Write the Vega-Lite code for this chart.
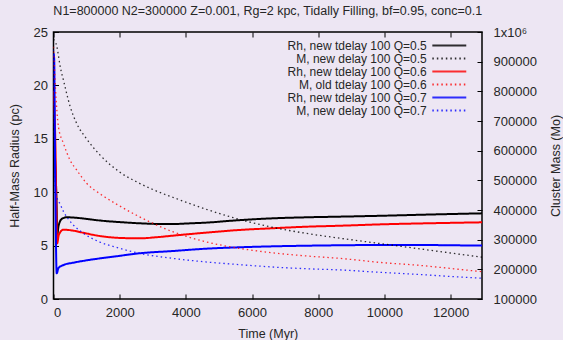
{
  "$schema": "https://vega.github.io/schema/vega-lite/v6.json",
  "width": 428.5,
  "height": 267,
  "autosize": {"type": "none"},
  "padding": {"left": 53.5, "top": 32, "right": 81, "bottom": 41},
  "background": "#ede6f3",
  "view": {"stroke": "#000000", "strokeWidth": 1.5},
  "config": {
    "font": "Liberation Sans",
    "axis": {
      "grid": false,
      "domain": false,
      "tickColor": "#000000",
      "tickWidth": 1,
      "tickSize": -5,
      "labelColor": "#262626",
      "titleColor": "#262626",
      "labelFontSize": 13,
      "titleFontSize": 12.5,
      "titleFontWeight": "normal",
      "labelFont": "Liberation Sans",
      "titleFont": "Liberation Sans"
    }
  },
  "title": {
    "text": "N1=800000 N2=300000 Z=0.001, Rg=2 kpc, Tidally Filling, bf=0.95, conc=0.1",
    "fontSize": 12.5,
    "fontWeight": "normal",
    "font": "Liberation Sans",
    "color": "#262626",
    "anchor": "middle",
    "baseline": "alphabetic",
    "offset": 13,
    "dy": 14.5
  },
  "datasets": {
    "rh": [
      {"t": 0, "r": 15.5, "s": "Rh, new tdelay 100 Q=0.5"},
      {"t": 60, "r": 12, "s": "Rh, new tdelay 100 Q=0.5"},
      {"t": 95, "r": 8.5, "s": "Rh, new tdelay 100 Q=0.5"},
      {"t": 110, "r": 5.9, "s": "Rh, new tdelay 100 Q=0.5"},
      {"t": 150, "r": 6.8, "s": "Rh, new tdelay 100 Q=0.5"},
      {"t": 250, "r": 7.5, "s": "Rh, new tdelay 100 Q=0.5"},
      {"t": 400, "r": 7.65, "s": "Rh, new tdelay 100 Q=0.5"},
      {"t": 700, "r": 7.6, "s": "Rh, new tdelay 100 Q=0.5"},
      {"t": 1000, "r": 7.5, "s": "Rh, new tdelay 100 Q=0.5"},
      {"t": 1400, "r": 7.35, "s": "Rh, new tdelay 100 Q=0.5"},
      {"t": 2000, "r": 7.2, "s": "Rh, new tdelay 100 Q=0.5"},
      {"t": 2600, "r": 7.09, "s": "Rh, new tdelay 100 Q=0.5"},
      {"t": 3100, "r": 7.03, "s": "Rh, new tdelay 100 Q=0.5"},
      {"t": 3600, "r": 7.02, "s": "Rh, new tdelay 100 Q=0.5"},
      {"t": 4100, "r": 7.08, "s": "Rh, new tdelay 100 Q=0.5"},
      {"t": 4600, "r": 7.15, "s": "Rh, new tdelay 100 Q=0.5"},
      {"t": 5600, "r": 7.38, "s": "Rh, new tdelay 100 Q=0.5"},
      {"t": 6600, "r": 7.55, "s": "Rh, new tdelay 100 Q=0.5"},
      {"t": 7650, "r": 7.65, "s": "Rh, new tdelay 100 Q=0.5"},
      {"t": 8650, "r": 7.71, "s": "Rh, new tdelay 100 Q=0.5"},
      {"t": 10000, "r": 7.8, "s": "Rh, new tdelay 100 Q=0.5"},
      {"t": 11500, "r": 7.92, "s": "Rh, new tdelay 100 Q=0.5"},
      {"t": 12950, "r": 8.02, "s": "Rh, new tdelay 100 Q=0.5"},
      {"t": 0, "r": 19.5, "s": "Rh, new tdelay 100 Q=0.6"},
      {"t": 60, "r": 14, "s": "Rh, new tdelay 100 Q=0.6"},
      {"t": 90, "r": 8, "s": "Rh, new tdelay 100 Q=0.6"},
      {"t": 110, "r": 5.2, "s": "Rh, new tdelay 100 Q=0.6"},
      {"t": 160, "r": 6.0, "s": "Rh, new tdelay 100 Q=0.6"},
      {"t": 300, "r": 6.49, "s": "Rh, new tdelay 100 Q=0.6"},
      {"t": 600, "r": 6.4, "s": "Rh, new tdelay 100 Q=0.6"},
      {"t": 900, "r": 6.2, "s": "Rh, new tdelay 100 Q=0.6"},
      {"t": 1400, "r": 5.9, "s": "Rh, new tdelay 100 Q=0.6"},
      {"t": 2000, "r": 5.72, "s": "Rh, new tdelay 100 Q=0.6"},
      {"t": 2600, "r": 5.68, "s": "Rh, new tdelay 100 Q=0.6"},
      {"t": 3100, "r": 5.78, "s": "Rh, new tdelay 100 Q=0.6"},
      {"t": 3600, "r": 5.93, "s": "Rh, new tdelay 100 Q=0.6"},
      {"t": 4600, "r": 6.21, "s": "Rh, new tdelay 100 Q=0.6"},
      {"t": 5600, "r": 6.46, "s": "Rh, new tdelay 100 Q=0.6"},
      {"t": 6600, "r": 6.62, "s": "Rh, new tdelay 100 Q=0.6"},
      {"t": 7650, "r": 6.77, "s": "Rh, new tdelay 100 Q=0.6"},
      {"t": 8650, "r": 6.86, "s": "Rh, new tdelay 100 Q=0.6"},
      {"t": 10000, "r": 7.0, "s": "Rh, new tdelay 100 Q=0.6"},
      {"t": 11500, "r": 7.1, "s": "Rh, new tdelay 100 Q=0.6"},
      {"t": 12950, "r": 7.18, "s": "Rh, new tdelay 100 Q=0.6"},
      {"t": 0, "r": 23, "s": "Rh, new tdelay 100 Q=0.7"},
      {"t": 20, "r": 22.5, "s": "Rh, new tdelay 100 Q=0.7"},
      {"t": 50, "r": 12, "s": "Rh, new tdelay 100 Q=0.7"},
      {"t": 97, "r": 2.4, "s": "Rh, new tdelay 100 Q=0.7"},
      {"t": 150, "r": 2.9, "s": "Rh, new tdelay 100 Q=0.7"},
      {"t": 300, "r": 3.18, "s": "Rh, new tdelay 100 Q=0.7"},
      {"t": 600, "r": 3.4, "s": "Rh, new tdelay 100 Q=0.7"},
      {"t": 1000, "r": 3.62, "s": "Rh, new tdelay 100 Q=0.7"},
      {"t": 1900, "r": 4.0, "s": "Rh, new tdelay 100 Q=0.7"},
      {"t": 2600, "r": 4.28, "s": "Rh, new tdelay 100 Q=0.7"},
      {"t": 3600, "r": 4.49, "s": "Rh, new tdelay 100 Q=0.7"},
      {"t": 4600, "r": 4.71, "s": "Rh, new tdelay 100 Q=0.7"},
      {"t": 5600, "r": 4.84, "s": "Rh, new tdelay 100 Q=0.7"},
      {"t": 6600, "r": 4.93, "s": "Rh, new tdelay 100 Q=0.7"},
      {"t": 7650, "r": 4.99, "s": "Rh, new tdelay 100 Q=0.7"},
      {"t": 8650, "r": 5.03, "s": "Rh, new tdelay 100 Q=0.7"},
      {"t": 10000, "r": 5.06, "s": "Rh, new tdelay 100 Q=0.7"},
      {"t": 11000, "r": 5.06, "s": "Rh, new tdelay 100 Q=0.7"},
      {"t": 12000, "r": 5.03, "s": "Rh, new tdelay 100 Q=0.7"},
      {"t": 12950, "r": 5.0, "s": "Rh, new tdelay 100 Q=0.7"}
    ],
    "mass": [
      {"t": 0, "m": 975000, "s": "M, new delay 100 Q=0.5"},
      {"t": 100, "m": 952000, "s": "M, new delay 100 Q=0.5"},
      {"t": 150, "m": 920000, "s": "M, new delay 100 Q=0.5"},
      {"t": 200, "m": 885000, "s": "M, new delay 100 Q=0.5"},
      {"t": 300, "m": 838000, "s": "M, new delay 100 Q=0.5"},
      {"t": 500, "m": 750000, "s": "M, new delay 100 Q=0.5"},
      {"t": 700, "m": 692000, "s": "M, new delay 100 Q=0.5"},
      {"t": 1000, "m": 640000, "s": "M, new delay 100 Q=0.5"},
      {"t": 1400, "m": 586000, "s": "M, new delay 100 Q=0.5"},
      {"t": 2000, "m": 528000, "s": "M, new delay 100 Q=0.5"},
      {"t": 2600, "m": 490000, "s": "M, new delay 100 Q=0.5"},
      {"t": 3000, "m": 469000, "s": "M, new delay 100 Q=0.5"},
      {"t": 3600, "m": 443000, "s": "M, new delay 100 Q=0.5"},
      {"t": 4600, "m": 403000, "s": "M, new delay 100 Q=0.5"},
      {"t": 5600, "m": 369000, "s": "M, new delay 100 Q=0.5"},
      {"t": 6600, "m": 342000, "s": "M, new delay 100 Q=0.5"},
      {"t": 7650, "m": 321000, "s": "M, new delay 100 Q=0.5"},
      {"t": 8650, "m": 305000, "s": "M, new delay 100 Q=0.5"},
      {"t": 10000, "m": 285000, "s": "M, new delay 100 Q=0.5"},
      {"t": 11000, "m": 270000, "s": "M, new delay 100 Q=0.5"},
      {"t": 12000, "m": 255000, "s": "M, new delay 100 Q=0.5"},
      {"t": 12950, "m": 241000, "s": "M, new delay 100 Q=0.5"},
      {"t": 0, "m": 950000, "s": "M, old tdelay 100 Q=0.6"},
      {"t": 60, "m": 810000, "s": "M, old tdelay 100 Q=0.6"},
      {"t": 150, "m": 680000, "s": "M, old tdelay 100 Q=0.6"},
      {"t": 300, "m": 625000, "s": "M, old tdelay 100 Q=0.6"},
      {"t": 500, "m": 568000, "s": "M, old tdelay 100 Q=0.6"},
      {"t": 700, "m": 535000, "s": "M, old tdelay 100 Q=0.6"},
      {"t": 1000, "m": 490000, "s": "M, old tdelay 100 Q=0.6"},
      {"t": 1400, "m": 455000, "s": "M, old tdelay 100 Q=0.6"},
      {"t": 1900, "m": 420000, "s": "M, old tdelay 100 Q=0.6"},
      {"t": 2600, "m": 377000, "s": "M, old tdelay 100 Q=0.6"},
      {"t": 3600, "m": 327000, "s": "M, old tdelay 100 Q=0.6"},
      {"t": 4600, "m": 293000, "s": "M, old tdelay 100 Q=0.6"},
      {"t": 5600, "m": 271000, "s": "M, old tdelay 100 Q=0.6"},
      {"t": 6600, "m": 256000, "s": "M, old tdelay 100 Q=0.6"},
      {"t": 7650, "m": 245000, "s": "M, old tdelay 100 Q=0.6"},
      {"t": 8650, "m": 237000, "s": "M, old tdelay 100 Q=0.6"},
      {"t": 10000, "m": 222000, "s": "M, old tdelay 100 Q=0.6"},
      {"t": 11000, "m": 214000, "s": "M, old tdelay 100 Q=0.6"},
      {"t": 12000, "m": 203000, "s": "M, old tdelay 100 Q=0.6"},
      {"t": 12950, "m": 192000, "s": "M, old tdelay 100 Q=0.6"},
      {"t": 0, "m": 940000, "s": "M, new delay 100 Q=0.7"},
      {"t": 20, "m": 700000, "s": "M, new delay 100 Q=0.7"},
      {"t": 50, "m": 480000, "s": "M, new delay 100 Q=0.7"},
      {"t": 100, "m": 445000, "s": "M, new delay 100 Q=0.7"},
      {"t": 200, "m": 420000, "s": "M, new delay 100 Q=0.7"},
      {"t": 300, "m": 395000, "s": "M, new delay 100 Q=0.7"},
      {"t": 500, "m": 362000, "s": "M, new delay 100 Q=0.7"},
      {"t": 900, "m": 322000, "s": "M, new delay 100 Q=0.7"},
      {"t": 1400, "m": 292000, "s": "M, new delay 100 Q=0.7"},
      {"t": 1900, "m": 274000, "s": "M, new delay 100 Q=0.7"},
      {"t": 2600, "m": 254000, "s": "M, new delay 100 Q=0.7"},
      {"t": 3600, "m": 237000, "s": "M, new delay 100 Q=0.7"},
      {"t": 4600, "m": 225000, "s": "M, new delay 100 Q=0.7"},
      {"t": 5600, "m": 216000, "s": "M, new delay 100 Q=0.7"},
      {"t": 6600, "m": 208000, "s": "M, new delay 100 Q=0.7"},
      {"t": 7650, "m": 202000, "s": "M, new delay 100 Q=0.7"},
      {"t": 8650, "m": 198000, "s": "M, new delay 100 Q=0.7"},
      {"t": 10000, "m": 189000, "s": "M, new delay 100 Q=0.7"},
      {"t": 11000, "m": 183000, "s": "M, new delay 100 Q=0.7"},
      {"t": 12000, "m": 176000, "s": "M, new delay 100 Q=0.7"},
      {"t": 12950, "m": 170000, "s": "M, new delay 100 Q=0.7"}
    ]
  },
  "layer": [
    {
      "data": {"name": "rh"},
      "mark": {"type": "line", "strokeWidth": 2, "clip": true, "interpolate": "monotone"},
      "encoding": {
        "x": {
          "field": "t", "type": "quantitative",
          "scale": {"domain": [0, 12950], "nice": false, "zero": false},
          "axis": {
            "orient": "bottom",
            "values": [0, 2000, 4000, 6000, 8000, 10000, 12000],
            "format": "d",
            "labelPadding": 12,
            "title": "Time (Myr)",
            "titleX": 214.3, "titleY": 34.3,
            "titleAlign": "center", "titleBaseline": "middle"
          }
        },
        "y": {
          "field": "r", "type": "quantitative",
          "scale": {"domain": [0, 25], "nice": false, "zero": false},
          "axis": {
            "orient": "left",
            "values": [0, 5, 10, 15, 20, 25],
            "labelPadding": 11,
            "title": "Half-Mass Radius (pc)",
            "titleX": -39.5, "titleY": 133.5,
            "titleAngle": 270,
            "titleAlign": "center", "titleBaseline": "middle"
          }
        },
        "color": {
          "field": "s", "type": "nominal",
          "scale": {
            "domain": ["Rh, new tdelay 100 Q=0.5", "M, new delay 100 Q=0.5", "Rh, new tdelay 100 Q=0.6", "M, old tdelay 100 Q=0.6", "Rh, new tdelay 100 Q=0.7", "M, new delay 100 Q=0.7"],
            "range": ["#000000", "#000000", "#ff0000", "#ff0000", "#0000ff", "#0000ff"]
          },
          "legend": {
            "orient": "none", "legendX": 388.8, "legendY": 6.6,
            "title": null, "symbolType": "M-3,0H3", "symbolSize": 128,
            "symbolStrokeWidth": 2, "symbolFillColor": "transparent",
            "labelAlign": "right", "labelOffset": -29.6,
            "labelFontSize": 12, "labelLimit": 400, "labelColor": "#262626",
            "rowPadding": 0, "padding": 0
          }
        },
        "strokeDash": {
          "field": "s", "type": "nominal",
          "scale": {
            "domain": ["Rh, new tdelay 100 Q=0.5", "M, new delay 100 Q=0.5", "Rh, new tdelay 100 Q=0.6", "M, old tdelay 100 Q=0.6", "Rh, new tdelay 100 Q=0.7", "M, new delay 100 Q=0.7"],
            "range": [[1, 0], [1.5, 3], [1, 0], [1.5, 3], [1, 0], [1.5, 3]]
          },
          "legend": {
            "orient": "none", "legendX": 388.8, "legendY": 6.6,
            "title": null, "symbolType": "M-3,0H3", "symbolSize": 128,
            "symbolStrokeWidth": 2, "symbolFillColor": "transparent",
            "labelAlign": "right", "labelOffset": -29.6,
            "labelFontSize": 12, "labelLimit": 400, "labelColor": "#262626",
            "rowPadding": 0, "padding": 0
          }
        }
      }
    },
    {
      "data": {"name": "mass"},
      "mark": {"type": "line", "strokeWidth": 1.3, "opacity": 0.8, "clip": true, "interpolate": "monotone"},
      "encoding": {
        "x": {
          "field": "t", "type": "quantitative",
          "axis": {
            "orient": "top",
            "values": [0, 2000, 4000, 6000, 8000, 10000, 12000],
            "labels": false,
            "title": null
          }
        },
        "y": {
          "field": "m", "type": "quantitative",
          "scale": {"domain": [100000, 1000000], "nice": false, "zero": false},
          "axis": {
            "orient": "right",
            "values": [100000, 200000, 300000, 400000, 500000, 600000, 700000, 800000, 900000, 1000000],
            "labelPadding": 16,
            "labelExpr": "datum.value >= 1000000 ? '1x10⁶' : format(datum.value, 'd')",
            "title": "Cluster Mass (Mo)",
            "titleX": 73, "titleY": 133.5,
            "titleAngle": 270,
            "titleAlign": "center", "titleBaseline": "middle"
          }
        },
        "color": {
          "field": "s", "type": "nominal",
          "scale": {
            "domain": ["Rh, new tdelay 100 Q=0.5", "M, new delay 100 Q=0.5", "Rh, new tdelay 100 Q=0.6", "M, old tdelay 100 Q=0.6", "Rh, new tdelay 100 Q=0.7", "M, new delay 100 Q=0.7"],
            "range": ["#000000", "#000000", "#ff0000", "#ff0000", "#0000ff", "#0000ff"]
          }
        },
        "strokeDash": {
          "field": "s", "type": "nominal",
          "scale": {
            "domain": ["Rh, new tdelay 100 Q=0.5", "M, new delay 100 Q=0.5", "Rh, new tdelay 100 Q=0.6", "M, old tdelay 100 Q=0.6", "Rh, new tdelay 100 Q=0.7", "M, new delay 100 Q=0.7"],
            "range": [[1, 0], [1.5, 3], [1, 0], [1.5, 3], [1, 0], [1.5, 3]]
          }
        }
      }
    }
  ],
  "resolve": {
    "scale": {"y": "independent"},
    "axis": {"x": "independent", "y": "independent"}
  }
}
